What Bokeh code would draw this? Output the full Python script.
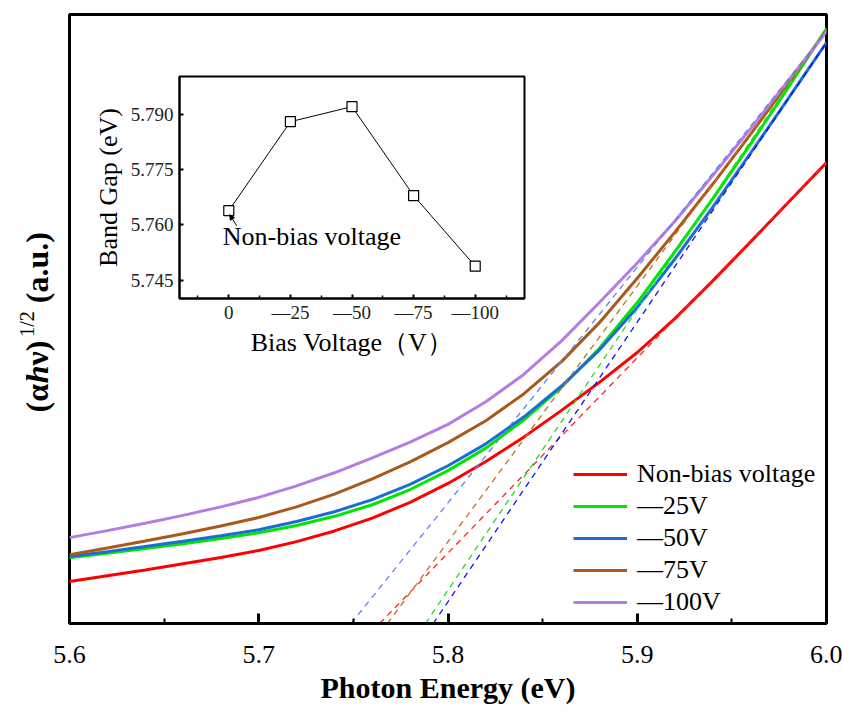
import numpy as np
from bokeh.plotting import figure
from bokeh.models import Range1d, FixedTicker, Label, Arrow, NormalHead
from bokeh.embed import file_html
from bokeh.resources import INLINE

# ---------------- data ----------------
energy = [5.60, 5.62, 5.64, 5.66, 5.68, 5.70, 5.72, 5.74, 5.76, 5.78, 5.80,
          5.82, 5.84, 5.86, 5.88, 5.90, 5.92, 5.94, 5.96, 5.98, 6.00]
non_bias = [6.9, 7.85, 8.8, 9.8, 10.85, 12.0, 13.45, 15.2, 17.3, 19.9, 23.0,
            26.6, 30.6, 35.0, 39.6, 44.5, 50.1, 56.3, 62.7, 69.2, 75.7]
bias_25 = [10.8, 11.55, 12.3, 13.1, 13.95, 14.9, 16.1, 17.6, 19.5, 22.0, 25.1,
           28.8, 33.4, 38.8, 45.2, 52.7, 61.1, 69.8, 78.8, 88.1, 97.7]
bias_50 = [11.0, 11.8, 12.65, 13.5, 14.4, 15.4, 16.75, 18.35, 20.35, 22.85, 25.9,
           29.5, 33.9, 39.0, 44.9, 51.9, 59.9, 68.4, 77.3, 86.3, 95.4]
bias_75 = [11.3, 12.4, 13.55, 14.75, 16.0, 17.4, 19.15, 21.25, 23.75, 26.55, 29.7,
           33.3, 37.7, 43.0, 49.4, 56.7, 64.3, 72.2, 80.4, 88.8, 97.4]
bias_100 = [14.1, 15.25, 16.45, 17.75, 19.15, 20.7, 22.6, 24.75, 27.2, 29.8, 32.7,
            36.4, 40.9, 46.4, 52.7, 59.2, 66.1, 73.6, 81.3, 89.2, 97.2]

series_labels = ["Non-bias voltage", "\u201425V", "\u201450V", "\u201475V", "\u2014100V"]
series_colors = ["#FF0000", "#00E600", "#1C6BD8", "#A85A1C", "#B47DE3"]
tangent_colors = ["#FF2020", "#22DD22", "#1010F0", "#C07020", "#5A86F0"]

bias_voltage = [0, -25, -50, -75, -100]
band_gap = [5.7639, 5.7881, 5.7922, 5.7680, 5.7488]
bias_tick_labels = ["0", "\u201425", "\u201450", "\u201475", "\u2014100"]
gap_ticks = [5.745, 5.760, 5.775, 5.790]
gap_tick_labels = ["5.745", "5.760", "5.775", "5.790"]
energy_ticks = [5.6, 5.7, 5.8, 5.9, 6.0]
energy_tick_labels = ["5.6", "5.7", "5.8", "5.9", "6.0"]

SERIF = "Liberation Serif"

# ---------------- main figure ----------------
p = figure(width=842, height=713, x_range=Range1d(5.6, 6.0), y_range=Range1d(0, 100),
           y_axis_type=None, output_backend="svg", toolbar_location=None,
           min_border_left=69, min_border_right=16, min_border_top=14, min_border_bottom=90)
p.background_fill_color = "white"
p.border_fill_color = "white"
p.outline_line_color = "black"
p.outline_line_width = 3
p.grid.visible = False

ax = p.xaxis[0]
ax.ticker = FixedTicker(ticks=energy_ticks,
                        minor_ticks=[(a + b) / 2 for a, b in zip(energy_ticks[:-1], energy_ticks[1:])])
ax.major_label_overrides = dict(zip(energy_ticks, energy_tick_labels))
ax.axis_line_color = "black"
ax.axis_line_width = 3
ax.major_tick_in = 10
ax.major_tick_out = 0
ax.minor_tick_in = 5
ax.minor_tick_out = 0
ax.major_tick_line_width = 3
ax.minor_tick_line_width = 2
ax.major_label_text_font = SERIF
ax.major_label_text_font_size = "26px"
ax.major_label_text_color = "black"
ax.major_label_standoff = 22
ax.axis_label = "Photon Energy (eV)"
ax.axis_label_text_font = SERIF
ax.axis_label_text_font_style = "bold"
ax.axis_label_text_font_size = "30px"
ax.axis_label_text_color = "black"
ax.axis_label_standoff = 5

all_series = [non_bias, bias_25, bias_50, bias_75, bias_100]
for s, c, lab in zip(all_series, series_colors, series_labels):
    p.line(energy, s, line_color=c, line_width=3, legend_label=lab)

# tangent (extrapolation) lines: from band-gap intercept to the curve end
for s, gap, c in zip(all_series, band_gap, tangent_colors):
    p.line([gap, energy[-1]], [0, s[-1]], line_color=c, line_width=1.3, line_dash="6 5")

lg = p.legend[0]
lg.location = (504, 5)
lg.border_line_color = None
lg.background_fill_alpha = 0
lg.padding = 0
lg.margin = 0
lg.spacing = 0
lg.glyph_width = 54
lg.glyph_height = 32
lg.label_height = 32
lg.label_standoff = 10
lg.label_text_font = SERIF
lg.label_text_font_size = "26px"
lg.label_text_color = "black"

# ---------------- y-axis title (separate overlay, superscript 1/2) ----------------
ylab = figure(width=66, height=215, x_range=Range1d(0, 1), y_range=Range1d(0, 1),
              x_axis_type=None, y_axis_type=None, output_backend="svg", toolbar_location=None,
              min_border=0, min_border_left=0, min_border_right=0, min_border_top=0,
              min_border_bottom=0,
              styles={"position": "absolute", "left": "0px", "top": "215px"})
ylab.outline_line_color = None
ylab.background_fill_color = None
ylab.border_fill_color = None
ylab.grid.visible = False
ylab_parts = [
    ("(\u03b1", "bold", "32px", 36, 18),
    ("h", "bold italic", "32px", 36, 47.2),
    ("\u03bd)", "bold", "32px", 36, 65),
    ("1/2", "normal", "20px", 26, 93.7),
    ("(a.u.)", "bold", "32px", 36, 127.3),
]
for txt, style, size, xx, yy in ylab_parts:
    ylab.add_layout(Label(x=xx, y=yy, x_units="screen", y_units="screen", text=txt,
                          angle=np.pi / 2, text_align="left", text_baseline="alphabetic",
                          text_font=SERIF, text_font_style=style, text_font_size=size,
                          text_color="black"))

# ---------------- inset ----------------
inset = figure(width=440, height=290, x_range=Range1d(20, -120), y_range=Range1d(5.740, 5.8004),
               output_backend="svg", toolbar_location=None,
               min_border_left=88, min_border_right=6, min_border_top=6, min_border_bottom=62,
               styles={"position": "absolute", "left": "90px", "top": "70px"})
inset.background_fill_color = None
inset.border_fill_color = None
inset.outline_line_color = "black"
inset.outline_line_width = 2
inset.grid.visible = False

step = (bias_voltage[0] - bias_voltage[1]) / 2
ix = inset.xaxis[0]
ix.ticker = FixedTicker(ticks=bias_voltage,
                        minor_ticks=[b + step for b in bias_voltage] + [bias_voltage[-1] - step])
ix.major_label_overrides = dict(zip(bias_voltage, bias_tick_labels))
iy = inset.yaxis[0]
iy.ticker = FixedTicker(ticks=gap_ticks)
iy.major_label_overrides = dict(zip(gap_ticks, gap_tick_labels))
for a in (ix, iy):
    a.axis_line_color = "black"
    a.axis_line_width = 2
    a.major_tick_in = 4
    a.major_tick_out = 0
    a.minor_tick_in = 3
    a.minor_tick_out = 0
    a.major_tick_line_width = 2
    a.minor_tick_line_width = 1.5
    a.major_label_text_font = SERIF
    a.major_label_text_font_size = "19px"
    a.major_label_text_color = "#222222"
    a.axis_label_text_font = SERIF
    a.axis_label_text_font_style = "normal"
    a.axis_label_text_font_size = "26px"
    a.axis_label_text_color = "black"
ix.major_label_standoff = 3
ix.axis_label_standoff = 2
ix.axis_label = "Bias Voltage\uff08V\uff09"
iy.major_label_standoff = 6
iy.axis_label_standoff = 5
iy.axis_label = "Band Gap (eV)"
iy.minor_tick_in = 0

inset.line(bias_voltage, band_gap, line_color="black", line_width=1)
inset.scatter(bias_voltage, band_gap, marker="square", size=10,
              fill_color="white", line_color="black", line_width=1.2)

inset.add_layout(Label(x=bias_voltage[0], y=band_gap[0], text="Non-bias voltage",
                       x_offset=-6, y_offset=-26, text_baseline="middle", text_align="left",
                       text_font=SERIF, text_font_size="26px", text_color="black"))
inset.add_layout(Arrow(x_start=bias_voltage[0] - 3.2, y_start=band_gap[0] - 0.0041,
                       x_end=bias_voltage[0] - 0.4, y_end=band_gap[0] - 0.0011,
                       line_width=1, line_color="black",
                       end=NormalHead(size=5, fill_color="black", line_color="black")))

open("out.html", "w").write(file_html([p, inset, ylab], INLINE))
